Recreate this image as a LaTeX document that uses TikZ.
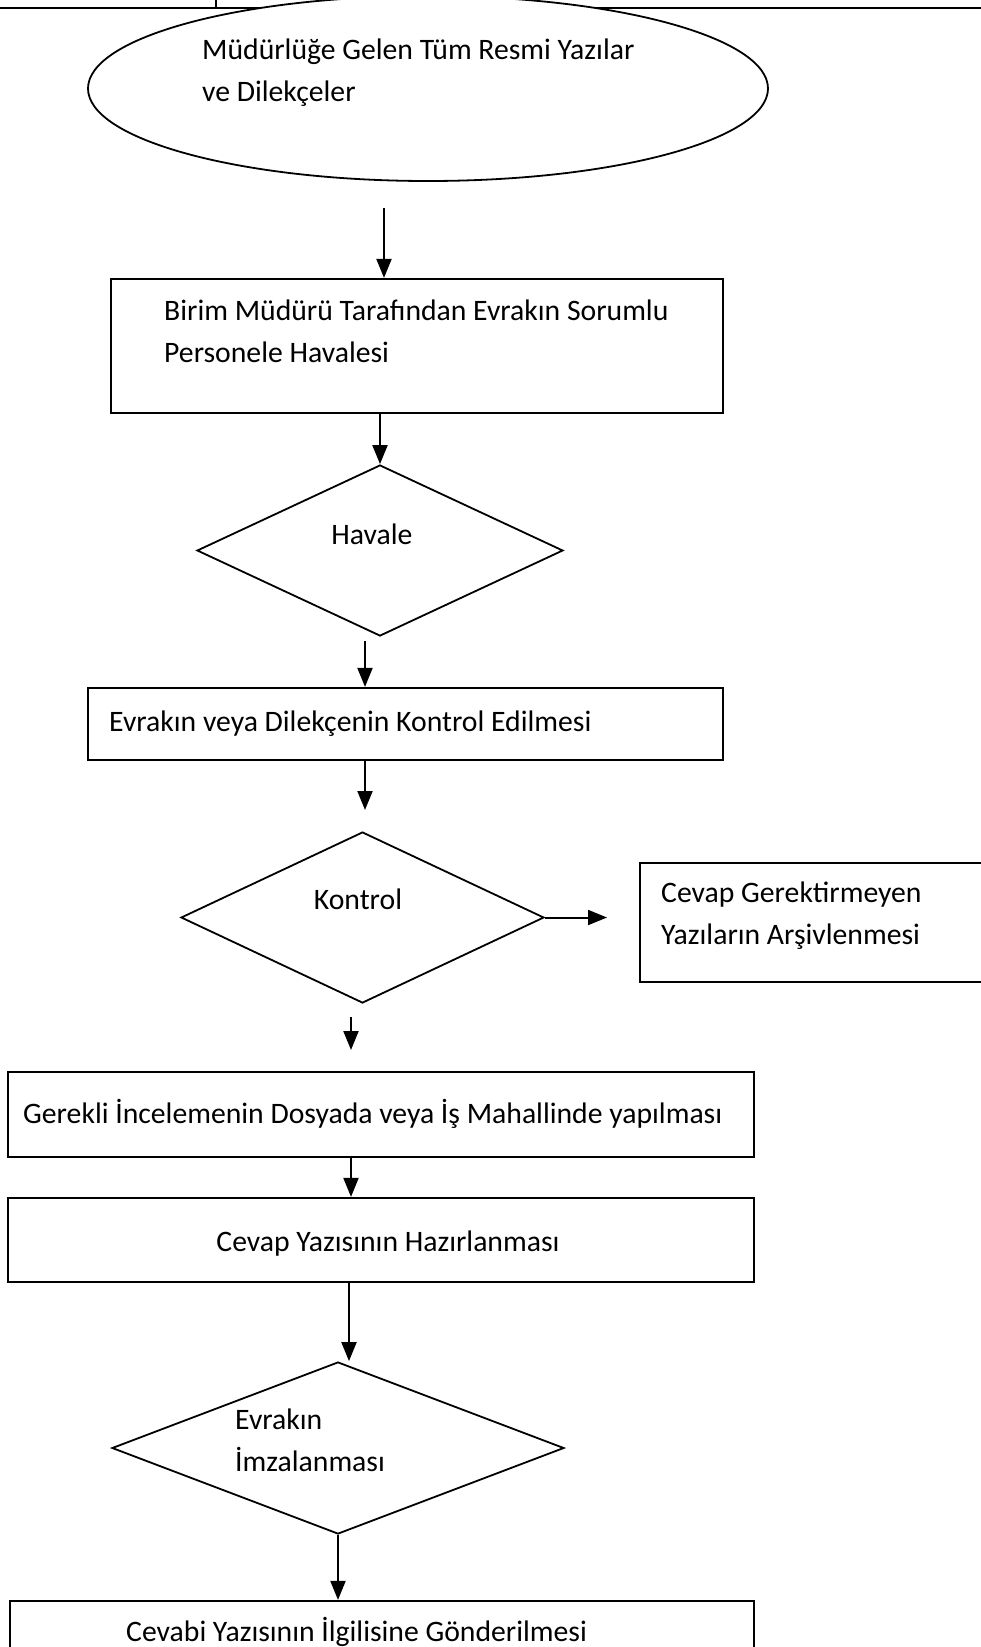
\documentclass[tikz,border=0pt]{standalone}
\usepackage{fontspec}
\setmainfont{Carlito}
\usetikzlibrary{shapes.geometric,arrows.meta}
\tikzset{
  every node/.style={font=\fontsize{29.7}{42}\selectfont},
  box/.style={draw=black,line width=2.2pt,rectangle,inner sep=0pt},
  dia/.style={draw=black,line width=1.8pt,diamond,inner sep=0pt,fill=white},
  oval/.style={draw=black,line width=1.8pt,ellipse,inner sep=0pt,fill=white},
  txt/.style={inner sep=0pt,anchor=base west,align=left},
  ctxt/.style={inner sep=0pt,anchor=base},
  arr/.style={line width=2pt,-{Triangle[length=19pt,width=15pt]}},
  frame/.style={line width=2.2pt}
}
\begin{document}
\begin{tikzpicture}[x=1pt,y=-1pt]
\useasboundingbox (0,0) rectangle (981,1647);
\clip (0,0) rectangle (981,1647);
% frame lines at top
\draw[frame] (0,8.3) -- (981,8.3);
\draw[frame] (216,0) -- (216,8.3);
% shapes
\node[oval,minimum width=680pt,minimum height=185pt] (e0) at (428,88.5) {};
\node[box,minimum width=612pt,minimum height=134pt] (r1) at (417,346) {};
\node[dia,minimum width=366pt,minimum height=171pt] (d1) at (380,550.5) {};
\node[box,minimum width=635pt,minimum height=72pt] (r2) at (405.5,724) {};
\node[dia,minimum width=363pt,minimum height=171pt] (d2) at (362.5,917.5) {};
\node[box,minimum width=360pt,minimum height=119pt] (r3) at (820,922.5) {};
\node[box,minimum width=746pt,minimum height=85pt] (r4) at (381,1114.5) {};
\node[box,minimum width=746pt,minimum height=84pt] (r5) at (381,1240) {};
\node[dia,minimum width=452pt,minimum height=172pt] (d3) at (338,1448) {};
\node[box,minimum width=744pt,minimum height=100pt] (r6) at (382,1651) {};
% texts (multi-line nodes: base anchor is on the last line)
\node[txt] (t0) at (202,101) {Müdürlüğe Gelen Tüm Resmi Yazılar\\ve Dilekçeler};
\node[txt] (t1) at (164,362) {Birim Müdürü Tarafından Evrakın Sorumlu\\Personele Havalesi};
\node[ctxt] (th) at (372,544) {Havale};
\node[txt] (t2) at (109,731) {Evrakın veya Dilekçenin Kontrol Edilmesi};
\node[ctxt] (tk) at (358,909) {Kontrol};
\node[txt] (t3) at (661,944) {Cevap Gerektirmeyen\\Yazıların Arşivlenmesi};
\node[txt] (t4) at (23,1123) {Gerekli İncelemenin Dosyada veya İş Mahallinde yapılması};
\node[ctxt] (t5) at (388,1251) {Cevap Yazısının Hazırlanması};
\node[txt] (t6) at (235,1471) {Evrakın\\İmzalanması};
\node[txt] (t7) at (126,1641) {Cevabi Yazısının İlgilisine Gönderilmesi};
% free ends
\coordinate (a1s) at (384,208);
\coordinate (a3s) at (365,641);
\coordinate (a4e) at (365,810);
\coordinate (a5e) at (607,917.5);
\coordinate (a6s) at (351,1017);
\coordinate (a6e) at (351,1050);
\coordinate (a8x) at (349,0);
% connectors
\draw[arr] (a1s) -- (a1s |- r1.north);
\draw[arr] (d1.north |- r1.south) -- (d1.north);
\draw[arr] (a3s) -- (a3s |- r2.north);
\draw[arr] (a4e |- r2.south) -- (a4e);
\draw[arr] (d2.east) -- (a5e);
\draw[arr] (a6s) -- (a6e);
\draw[arr] (a6s |- r4.south) -- (a6s |- r5.north);
\draw[arr] (a8x |- r5.south) -- (a8x |- d3.north);
\draw[arr] (d3.south) -- (d3.south |- r6.north);
\end{tikzpicture}
\end{document}
